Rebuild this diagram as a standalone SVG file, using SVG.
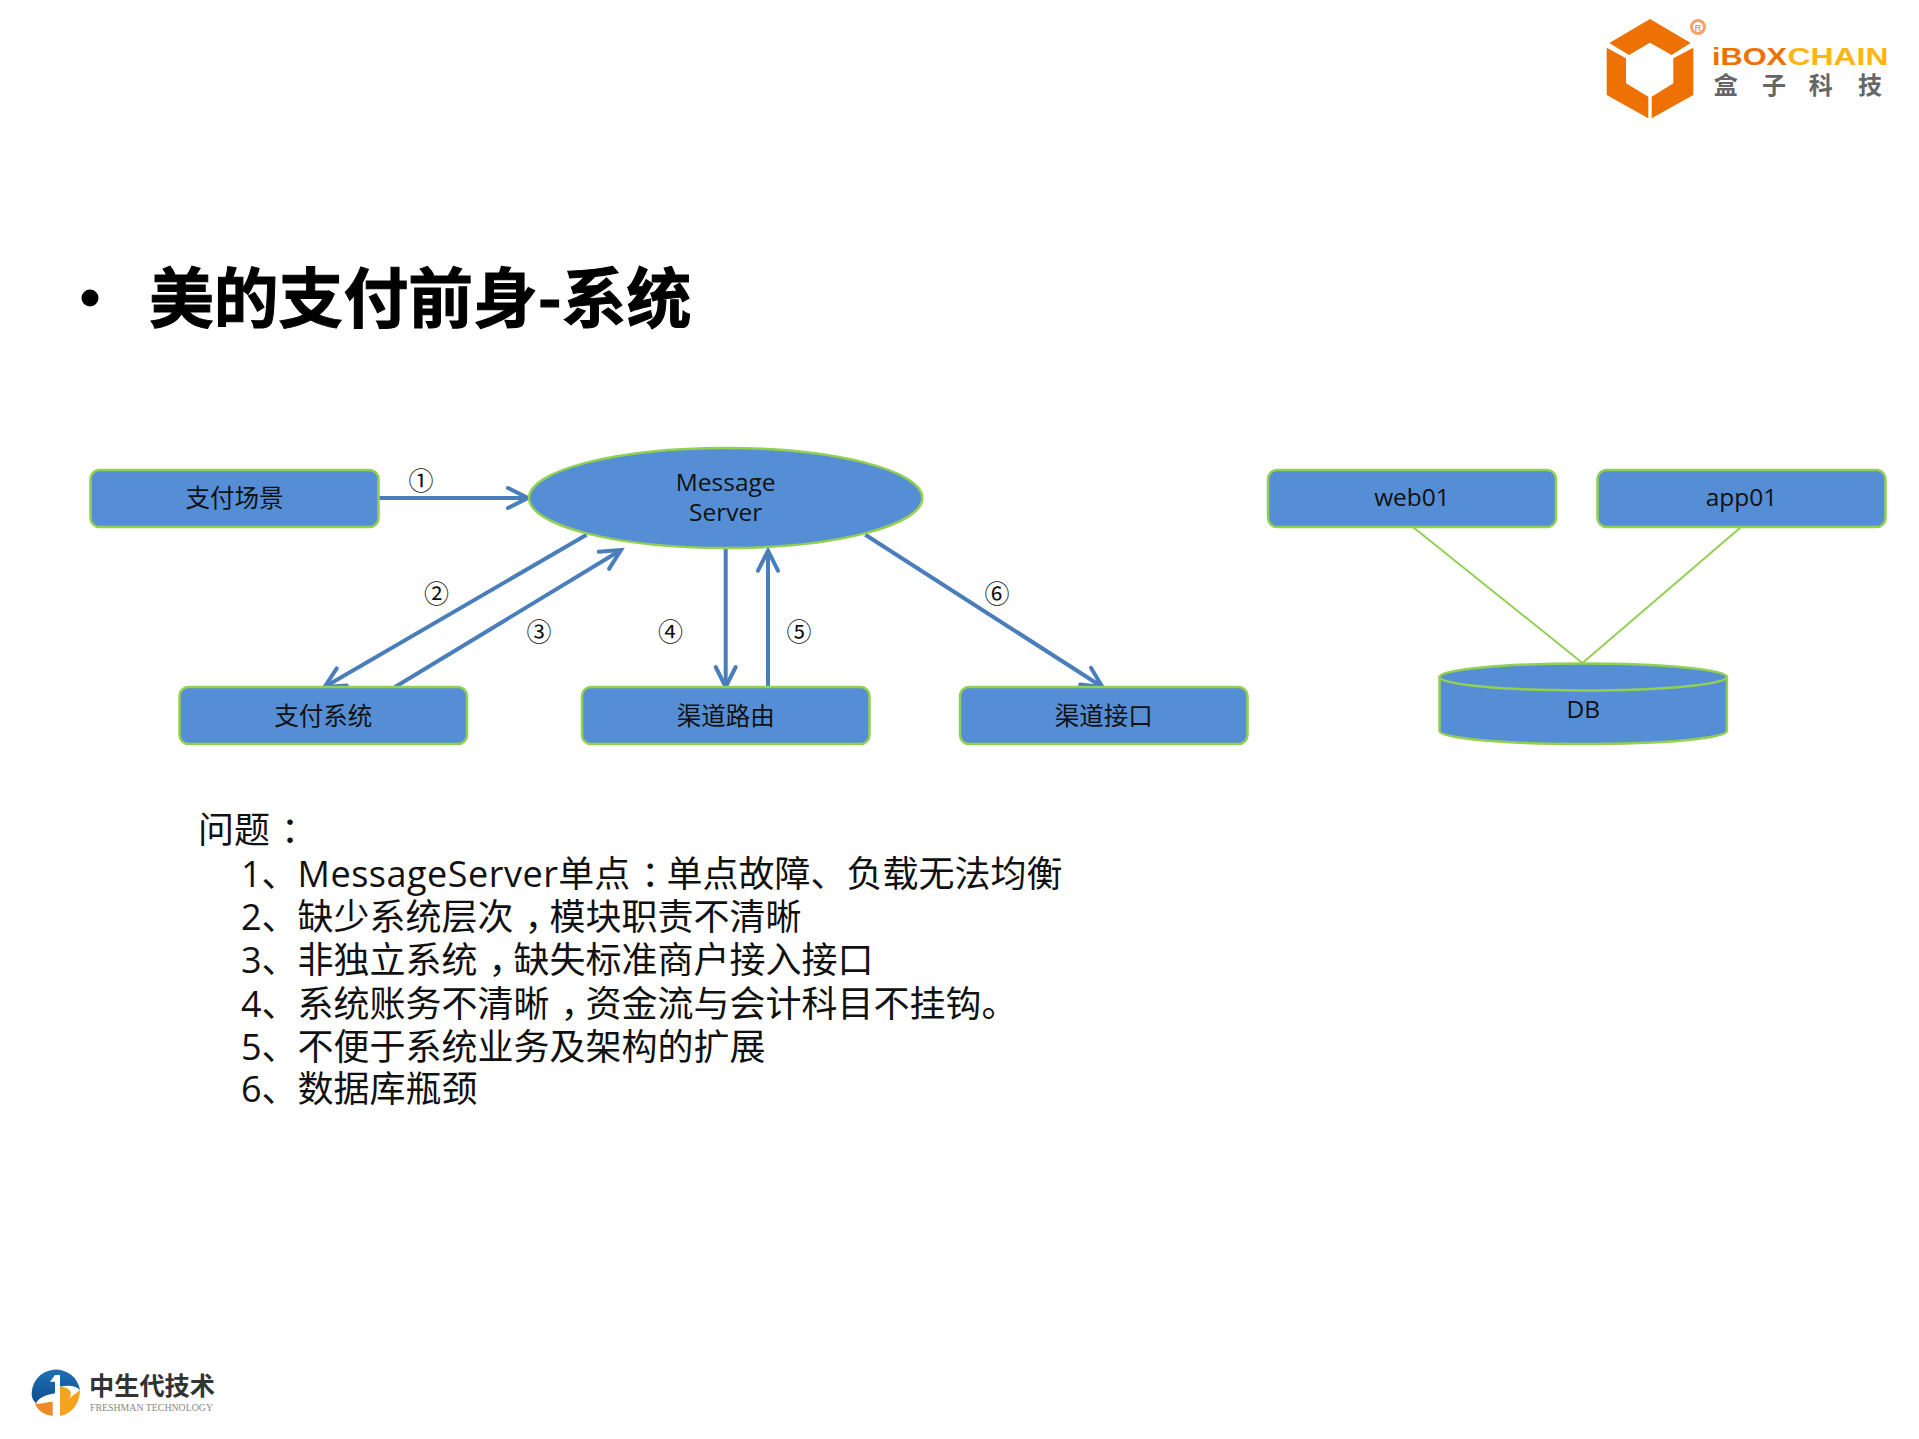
<svg xmlns="http://www.w3.org/2000/svg" width="1919" height="1439" viewBox="0 0 1919 1439">
<style>
text{font-family:"Open Sans","Noto Sans CJK SC",sans-serif;fill:#111}
.n{fill:#558ed5;stroke:#92d050;stroke-width:2.5}
.t{font-size:24.500px;text-anchor:middle}
.c{font-size:25px;text-anchor:middle}
.b{font-size:36px}
.a{fill:none;stroke:#4a7ebb;stroke-width:4;marker-end:url(#h)}
.g{fill:none;stroke:#92d050;stroke-width:2}
</style>
<defs>
<marker id="h" markerUnits="userSpaceOnUse" markerWidth="30" markerHeight="30" refX="24" refY="13" orient="auto"><path d="M4,3 L24,13 L4,23" fill="none" stroke="#4a7ebb" stroke-width="4" stroke-linecap="round"/></marker>
<linearGradient id="lb" x1="0" y1="0" x2="0" y2="1"><stop offset="0" stop-color="#1f6fb5"/><stop offset="1" stop-color="#0d4f8f"/></linearGradient>
</defs>
<rect width="1919" height="1439" fill="#fff"/>

<g id="logo-ibox">
<path fill="#ee7203" d="M1650,19 L1690.700,43 L1671.700,55 L1650,42.700 L1629,55 L1609.300,43Z"/>
<path fill="#ee7203" d="M1606.700,47.700 L1626,58.300 L1626,83.300 L1648.300,96.700 L1648.300,118.300 L1606.700,95Z"/>
<path fill="#ee7203" d="M1693.300,47.700 L1693.300,95 L1651.700,118.300 L1651.700,96.700 L1673.300,83.300 L1673.300,58.300Z"/>
<circle cx="1698" cy="27" r="6.500" fill="#fff" stroke="#f2a468" stroke-width="3"/>
<text x="1698" y="31" font-size="9" text-anchor="middle" style="fill:#ee7203;font-family:'Liberation Sans',sans-serif">R</text>
<text x="1712" y="64.500" font-size="23" font-weight="bold" textLength="75" lengthAdjust="spacingAndGlyphs" style="fill:#ee7203;font-family:'Liberation Sans',sans-serif">iBOX</text>
<text x="1787.500" y="64.500" font-size="23" font-weight="bold" textLength="101" lengthAdjust="spacingAndGlyphs" style="fill:#fcb515;font-family:'Liberation Sans',sans-serif">CHAIN</text>
<text x="1725.700" y="94" font-size="24" font-weight="bold" text-anchor="middle" style="fill:#666">盒</text>
<text x="1774" y="94" font-size="24" font-weight="bold" text-anchor="middle" style="fill:#666">子</text>
<text x="1820.700" y="94" font-size="24" font-weight="bold" text-anchor="middle" style="fill:#666">科</text>
<text x="1870" y="94" font-size="24" font-weight="bold" text-anchor="middle" style="fill:#666">技</text>
</g>

<g id="title">
<circle cx="90" cy="298" r="8.500" fill="#000"/>
<text x="149" y="322" font-size="64.800" font-weight="bold" style="fill:#000;font-family:'Noto Sans CJK SC',sans-serif;stroke:#000;stroke-width:1">美的支付前身-系统</text>
</g>

<g id="connectors">
<line class="a" x1="378.500" y1="498" x2="528" y2="498"/>
<line class="a" x1="586.600" y1="534.700" x2="324.500" y2="687"/>
<line class="a" x1="395" y1="687" x2="621" y2="550"/>
<line class="a" x1="725.700" y1="548" x2="725.700" y2="687"/>
<line class="a" x1="768" y1="687" x2="768" y2="550.700"/>
<line class="a" x1="865.300" y1="534.700" x2="1102.400" y2="687"/>
<line class="g" x1="1412.900" y1="527" x2="1582.500" y2="663"/>
<line class="g" x1="1741" y1="527" x2="1582.500" y2="663"/>
</g>

<g id="step-labels">
<text class="c" x="421" y="489.500">①</text>
<text class="c" x="436.600" y="602.500">②</text>
<text class="c" x="539" y="640.500">③</text>
<text class="c" x="670.600" y="640.500">④</text>
<text class="c" x="799" y="640.500">⑤</text>
<text class="c" x="997" y="602.500">⑥</text>
</g>

<g id="node-pay-scene"><rect class="n" x="90.500" y="470" width="288" height="57" rx="9"/><text class="t" x="234.500" y="506.500">支付场景</text></g>
<g id="node-message-server"><ellipse class="n" cx="725.700" cy="498" rx="196.700" ry="50"/><text class="t" x="725.700" y="491">Message</text><text class="t" x="725.700" y="521">Server</text></g>
<g id="node-pay-system"><rect class="n" x="179.500" y="687" width="287.500" height="57" rx="9"/><text class="t" x="323.200" y="725">支付系统</text></g>
<g id="node-channel-route"><rect class="n" x="582" y="687" width="287.500" height="57" rx="9"/><text class="t" x="725.700" y="725">渠道路由</text></g>
<g id="node-channel-api"><rect class="n" x="960" y="687" width="287.500" height="57" rx="9"/><text class="t" x="1103.700" y="725">渠道接口</text></g>
<g id="node-web01"><rect class="n" x="1268" y="470" width="288" height="57" rx="9"/><text class="t" x="1412" y="506">web01</text></g>
<g id="node-app01"><rect class="n" x="1597.500" y="470" width="288" height="57" rx="9"/><text class="t" x="1741.500" y="506">app01</text></g>
<g id="node-db">
<path class="n" d="M1439.500,677 L1439.500,731 A143.700,13 0 0 0 1726.900,731 L1726.900,677Z"/>
<ellipse class="n" cx="1583.200" cy="677" rx="143.700" ry="13.500"/>
<text class="t" x="1583.200" y="718">DB</text>
</g>

<g id="problems">
<text class="b" x="198" y="843">问题<tspan dx="11">：</tspan></text>
<text class="b" x="241" y="887">1、<tspan letter-spacing="0.500">MessageServer</tspan>单点<tspan dx="11">：</tspan><tspan dx="-11">单点故障、负载无法均衡</tspan></text>
<text class="b" x="241" y="930">2、缺少系统层次<tspan dx="11">，</tspan><tspan dx="-11">模块职责不清晰</tspan></text>
<text class="b" x="241" y="973">3、非独立系统<tspan dx="11">，</tspan><tspan dx="-11">缺失标准商户接入接口</tspan></text>
<text class="b" x="241" y="1017">4、系统账务不清晰<tspan dx="11">，</tspan><tspan dx="-11">资金流与会计科目不挂钩。</tspan></text>
<text class="b" x="241" y="1060">5、不便于系统业务及架构的扩展</text>
<text class="b" x="241" y="1102">6、数据库瓶颈</text>
</g>

<g id="logo-freshman">
<g transform="translate(0,1340) scale(0.3333)">
<path fill="url(#lb)" d="M95,165 A73,73 0 0 1 240,150 C225,135 205,135 180,140 L180,105 L165,105 L150,125 L165,125 L165,160 C135,165 115,175 108,190 C100,182 96,175 95,165Z"/>
<path fill="#f08a24" d="M105,190 C120,195 140,185 158,185 L158,228 C130,225 112,210 105,190Z"/>
<path fill="#f5a21f" d="M180,140 C210,140 222,160 205,178 L240,150 C240,190 215,222 180,228Z"/>
</g>
<text x="89" y="1395" font-size="25" font-weight="bold" textLength="126" lengthAdjust="spacingAndGlyphs" style="fill:#333;font-family:'Noto Sans CJK SC',sans-serif">中生代技术</text>
<text x="90" y="1411" font-size="9.500" textLength="123" lengthAdjust="spacingAndGlyphs" style="fill:#888;font-family:'Liberation Serif',serif">FRESHMAN TECHNOLOGY</text>
</g>
</svg>
